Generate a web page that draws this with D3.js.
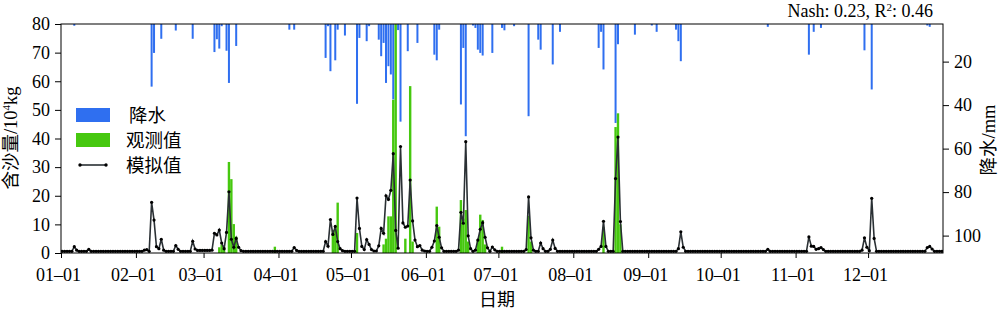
<!DOCTYPE html>
<html>
<head>
<meta charset="utf-8">
<script src="https://cdn.jsdelivr.net/npm/d3@7"></script>
<style>
  body { margin: 0; background: #fff; }
  svg { display: block; }
  text { font-family: "Liberation Serif", "Noto Sans CJK SC", serif; fill: #000; }
</style>
</head>
<body>
<svg></svg>
<script>
// x axis: days since 01-01 where each month starts
const monthStarts = [0, 31, 59, 90, 120, 151, 181, 212, 243, 273, 304, 334];
const monthLabels = ["01–01", "02–01", "03–01", "04–01", "05–01", "06–01",
                     "07–01", "08–01", "09–01", "10–01", "11–01", "12–01"];
const sedTicks = [0, 10, 20, 30, 40, 50, 60, 70, 80];
const rainTicks = [20, 40, 60, 80, 100];

// precipitation, [day of year, mm]
const precipData = [[6,3.5],[38,31.5],[39,16],[42,9.5],[48,5.7],[55,9.5],[64,15.6],[65,9.7],[66,14],[67,3.7],
  [69,15],[70,29.8],[73,12.8],[95,5.3],[97,5.3],[110,18.3],[111,3.7],[112,24.4],[114,19.4],[115,5.3],[118,8],
  [123,39.4],[124,9.1],[127,10.6],[128,3.7],[132,9.9],[133,17.5],[134,11.4],[135,29.8],[136,22.1],[137,25.9],
  [138,37.4],[140,5.5],[141,47.6],[144,15.2],[148,11.4],[155,16.8],[156,19.4],[157,5.3],[166,39.7],[167,13.7],
  [168,54.3],[171,3.4],[172,4.5],[173,14.5],[174,16],[175,17.2],[179,16],[183,4.5],[184,5.6],[188,3.7],
  [194,45.1],[198,9.9],[199,14.5],[204,21.3],[207,6.3],[223,13.7],[224,6.3],[225,23.6],[230,48.2],[231,12],
  [238,7.6],[245,3.4],[247,6.3],[255,5.3],[256,10.6],[257,19.8],[293,4],[310,16.8],[312,6.3],[315,4.5],
  [333,14.8],[336,32.8],[359,3.4],[360,4]];

// observed sediment, [day of year, 10^4 kg]
const observedData = [[66,2],[67,3],[68,2],[70,31.8],[71,25.8],[72,10.1],[73,5.7],[89,2.2],[113,8],[114,9],
  [115,17.6],[123,7],[134,3],[135,5],[136,12.8],[137,12.8],[138,53.5],[139,82],[143,5],[145,58.3],[146,4],
  [156,16.2],[157,9.2],[166,18.5],[167,12],[168,15],[169,4],[173,4.5],[174,13.4],[175,11.5],[176,3],[183,2.2],
  [194,13],[195,4],[225,9],[230,44],[231,48.8],[232,10]];

// simulated sediment, one value per day, month by month
const simJan = [.6,.6,.6,.6,.6,2.2,1.0,.6,.6,.6,.6,1.3,.6,.6,.6,.6,.6,.6,.6,.6,.6,.6,.6,.6,.6,.6,.6,.6,.6,.6,.6];
const simFeb = [.6,.6,.6,1.0,1.2,.6,17.7,11.5,2.2,1.5,4.8,1.0,.6,.6,.6,.6,2.6,1.3,.6,.6,.6,.6,.6,4.1,1.4,.9,.9,.9];
const simMar = [.9,.9,.9,1.0,6.9,6.3,8.0,3.5,1.5,7.2,21.4,4.8,2.0,5.1,2.0,.8,.6,.6,.6,.6,.6,.6,.6,.6,.6,.6,.6,.6,.6,.6,.6];
const simApr = [.6,.6,.6,.6,.6,.6,1.9,.9,.6,.6,.6,.6,.6,.6,.6,.6,.6,.6,.6,4.0,2.4,11.7,6.5,9.3,4.0,1.5,.8,.6,.6,.6];
const simMay = [.6,.6,19.2,8.6,2.3,1.2,4.7,3.0,1.2,.7,.7,2.5,8.6,6.9,20.0,18.7,21.9,34.7,7.9,1.7,37.2,10.5,9.0,9.4,25.5,11.2,4.5,2.2,2.6,1.0,.7];
const simJun = [.6,.6,2.0,4.2,9.6,5.5,1.8,.6,.6,.6,.6,.6,.6,1.0,14.2,10.4,38.9,6.0,1.5,.6,1.0,4.5,8.3,10.6,5.5,1.8,.6,2.1,1.1,.6];
const simJul = [.6,.6,.6,.6,.6,.6,.6,.6,.6,.6,.6,1.2,19.6,5.3,1.0,.6,.6,3.5,1.5,.6,.6,1.3,4.5,1.6,.6,.6,.6,.6,.6,.6,.6];
const simAug = [.6,.6,.6,.6,.6,.6,.6,.6,.6,.6,1.3,2.3,11.1,2.3,.6,.6,.6,26.0,40.5,11.0,.6,.6,.6,.6,.6,.6,.6,.6,.6,.6,.6];
const simSep = [.6,.6,.6,.6,.6,.6,.6,.6,.6,.6,.6,.6,1.5,7.4,2.0,.6,.6,.6,.6,.6,.6,.6,.6,.6,.6,.6,.6,.6,.6,.6];
const simOct = [.6,.6,.6,.6,.6,.6,.6,.6,.6,.6,.6,.6,.6,.6,.6,.6,.6,.6,.6,1.3,.6,.6,.6,.6,.6,.6,.6,.6,.6,.6,.6];
const simNov = [.6,.6,.6,.6,.6,5.6,2.4,2.3,1.3,1.5,1.9,1.2,.6,.6,.6,.6,.6,.6,.6,.6,.6,.6,.6,.6,.6,.6,.6,1.0,5.3,2.0];
const simDec = [.8,19.1,5.1,.6,.6,.6,.6,.6,.6,.6,.6,.6,.6,.6,.6,.6,.6,.6,.6,.6,.6,.6,.6,.6,1.9,2.3,1.4,.6,.6,.6,.6];

const simulated = [].concat(simJan, simFeb, simMar, simApr, simMay, simJun,
                            simJul, simAug, simSep, simOct, simNov, simDec);

const width = 1000, height = 309;
const plot = { left: 61, right: 943, top: 24, bottom: 253 };
const blue = "#2f6ff0", green = "#46c80f", lineColor = "#2a3034";

const svg = d3.select("svg")
    .attr("width", width)
    .attr("height", height);

const x = d3.scaleLinear().domain([0, 365]).range([plot.left, plot.right]);
const ySed = d3.scaleLinear().domain([0, 80]).range([plot.bottom, plot.top]);
const yRain = d3.scaleLinear().domain([2.7, 108]).range([plot.top, plot.bottom]);

// day d is drawn at the middle of that day
const dayX = d => x(d - 0.5);

svg.append("clipPath").attr("id", "clip")
  .append("rect")
    .attr("x", plot.left).attr("y", plot.top)
    .attr("width", plot.right - plot.left).attr("height", plot.bottom - plot.top);

const g = svg.append("g").attr("clip-path", "url(#clip)");

// precipitation hangs from the top
g.selectAll(".rain").data(precipData)
  .join("rect")
    .attr("class", "rain")
    .attr("x", d => dayX(d[0]) - 1)
    .attr("y", plot.top)
    .attr("width", 2)
    .attr("height", d => Math.max(0, yRain(d[1]) - plot.top))
    .attr("fill", blue);

g.selectAll(".obs").data(observedData)
  .join("rect")
    .attr("class", "obs")
    .attr("x", d => dayX(d[0]) - 1.2)
    .attr("y", d => ySed(d[1]))
    .attr("width", 2.4)
    .attr("height", d => plot.bottom - ySed(d[1]))
    .attr("fill", green);

const line = d3.line()
  .x((d, i) => dayX(i + 1))
  .y(d => ySed(d));

g.append("path")
  .datum(simulated)
  .attr("fill", "none")
  .attr("stroke", lineColor)
  .attr("stroke-width", 1.6)
  .attr("d", line);

g.selectAll(".sim-dot").data(simulated)
  .join("circle")
    .attr("class", "sim-dot")
    .attr("cx", (d, i) => dayX(i + 1))
    .attr("cy", d => ySed(d))
    .attr("r", 1.6)
    .attr("fill", "#000");

// axes
const styleAxis = sel => {
  sel.attr("font-family", null).attr("font-size", null);
  sel.select(".domain").remove();
  sel.selectAll(".tick line").attr("stroke", "#000");
  sel.selectAll(".tick text").attr("font-size", 18);
};

svg.append("g")
  .attr("transform", `translate(${plot.left},0)`)
  .call(d3.axisLeft(ySed).tickValues(sedTicks).tickSize(6).tickPadding(5))
  .call(styleAxis);

svg.append("g")
  .attr("transform", `translate(${plot.right},0)`)
  .call(d3.axisRight(yRain).tickValues(rainTicks).tickSize(6).tickPadding(5))
  .call(styleAxis);

svg.append("g")
  .attr("transform", `translate(0,${plot.bottom})`)
  .call(d3.axisBottom(x).tickValues(monthStarts).tickFormat((d, i) => monthLabels[i]).tickSize(5))
  .call(styleAxis)
  .call(a => a.selectAll(".tick text").attr("y", 28).attr("dy", 0).attr("x", -3));

svg.append("rect")
  .attr("x", plot.left).attr("y", plot.top)
  .attr("width", plot.right - plot.left).attr("height", plot.bottom - plot.top)
  .attr("fill", "none").attr("stroke", "#000").attr("stroke-width", 1);

// labels with a superscript part
function supText(sel, before, sup, after, rise) {
  sel.append("tspan").text(before);
  sel.append("tspan").attr("dy", -rise).attr("font-size", 11).text(sup);
  sel.append("tspan").attr("dy", rise).text(after);
}

svg.append("text")
  .attr("x", 933).attr("y", 17)
  .attr("text-anchor", "end")
  .attr("font-size", 18)
  .call(supText, "Nash: 0.23, R", "2", ": 0.46", 6);

svg.append("text")
  .attr("transform", "translate(17,138) rotate(-90)")
  .attr("text-anchor", "middle")
  .attr("font-size", 18.5)
  .call(supText, "含沙量/10", "4", "kg", 7);

svg.append("text")
  .attr("transform", "translate(995,140) rotate(-90)")
  .attr("text-anchor", "middle")
  .attr("font-size", 18.5)
  .text("降水/mm");

svg.append("text")
  .attr("x", 497).attr("y", 306)
  .attr("text-anchor", "middle")
  .attr("font-size", 18)
  .text("日期");

// legend
const legend = svg.append("g");
legend.append("rect").attr("x", 76).attr("y", 108).attr("width", 34).attr("height", 14).attr("fill", blue);
legend.append("rect").attr("x", 76).attr("y", 133).attr("width", 34).attr("height", 14).attr("fill", green);
legend.append("line")
  .attr("x1", 80).attr("x2", 106).attr("y1", 165).attr("y2", 165)
  .attr("stroke", lineColor).attr("stroke-width", 1.6);
legend.selectAll(".lg-dot").data([80, 106])
  .join("circle").attr("class", "lg-dot")
  .attr("cx", d => d).attr("cy", 165).attr("r", 1.7).attr("fill", "#000");

const legendLabels = ["降水", "观测值", "模拟值"];
legend.selectAll(".lg-text").data(legendLabels)
  .join("text").attr("class", "lg-text")
  .attr("x", (d, i) => i === 0 ? 129 : 126)
  .attr("y", (d, i) => 122 + i * 25)
  .attr("font-size", 18.5)
  .text(d => d);
</script>
</body>
</html>
